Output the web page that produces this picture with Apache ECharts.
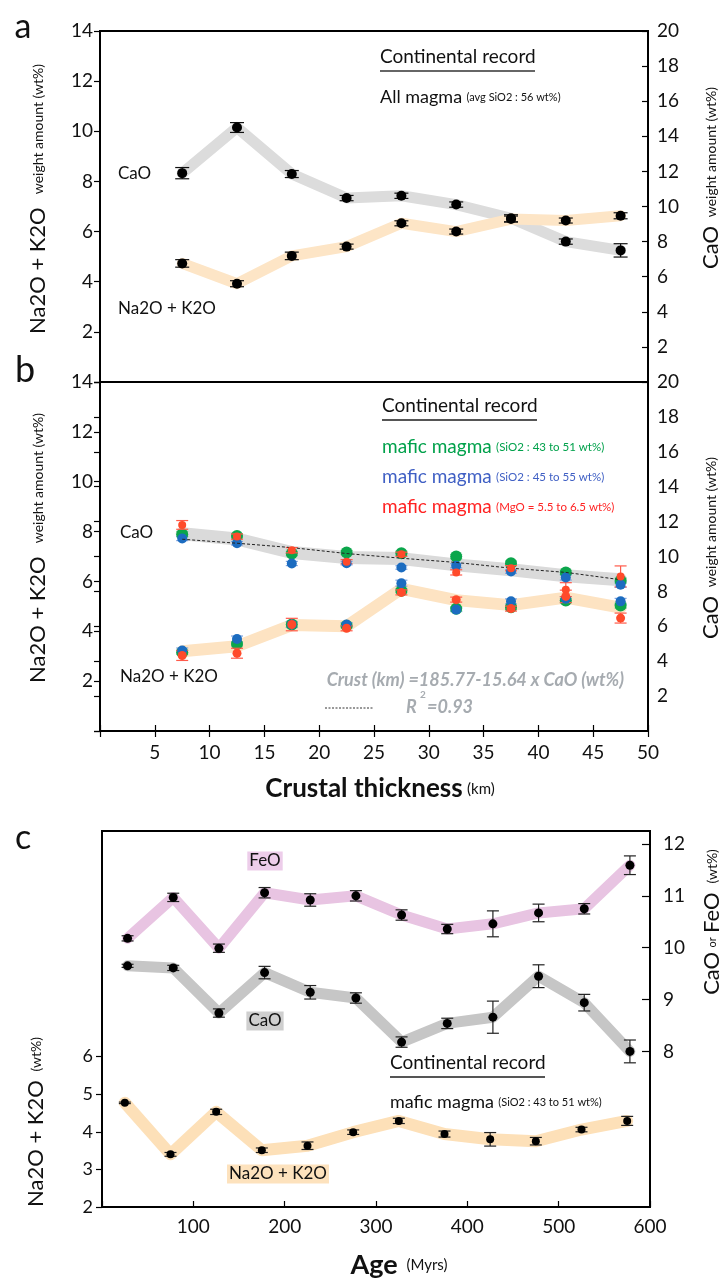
<!DOCTYPE html>
<html><head><meta charset="utf-8">
<script src="https://cdn.jsdelivr.net/npm/echarts@6/dist/echarts.min.js"></script>
<style>html,body{margin:0;padding:0;background:#fff}#c{width:722px;height:1280px}</style>
</head><body><div id="c"></div>
<script>
// ---------- Panel a / b : crustal thickness bins (km) ----------
const thickness = [7.5, 12.5, 17.5, 22.5, 27.5, 32.5, 37.5, 42.5, 47.5];
const thicknessTicks = [5, 10, 15, 20, 25, 30, 35, 40, 45, 50];

// Panel a : all magma
const aNaK    = [4.73, 3.92, 5.03, 5.40, 6.33, 6.00, 6.50, 6.44, 6.63];
const aNaKErr = [0.15, 0.12, 0.15, 0.10, 0.10, 0.10, 0.12, 0.10, 0.12];
const aCaO    = [11.90, 14.50, 11.85, 10.48, 10.61, 10.11, 9.33, 8.00, 7.50];
const aCaOErr = [0.32, 0.28, 0.20, 0.15, 0.15, 0.15, 0.20, 0.15, 0.38];

// Panel b : mafic magma (three selections)
const bGreenCaO = [11.28, 11.18, 10.17, 10.23, 10.19, 10.00, 9.62, 9.09, 8.61];
const bGreenNaK = [3.16, 3.49, 4.27, 4.22, 5.63, 4.90, 4.96, 5.23, 5.03];
const bBlueCaO  = [11.03, 10.76, 9.60, 9.62, 9.37, 9.47, 9.14, 8.80, 8.38];
const bBlueNaK  = [3.23, 3.69, 4.27, 4.27, 5.93, 4.87, 5.20, 5.31, 5.20];
const bRedCaO   = [11.81, 11.14, 10.36, 9.70, 10.13, 9.09, 9.33, 8.10, 8.86];
const bRedNaK   = [3.03, 3.12, 4.27, 4.12, 5.56, 5.27, 4.91, 5.40, 4.53];
const bGreenCaOErr = [0.15, 0.12, 0.12, 0.12, 0.12, 0.12, 0.12, 0.12, 0.15];
const bGreenNaKErr = [0.08, 0.08, 0.10, 0.08, 0.08, 0.08, 0.08, 0.08, 0.10];
const bBlueCaOErr  = [0.12, 0.10, 0.12, 0.10, 0.10, 0.12, 0.10, 0.15, 0.15];
const bBlueNaKErr  = [0.10, 0.12, 0.12, 0.08, 0.12, 0.08, 0.10, 0.08, 0.12];
const bRedCaOErr   = [0.25, 0.15, 0.15, 0.12, 0.12, 0.15, 0.15, 0.40, 0.60];
const bRedNaKErr   = [0.20, 0.20, 0.25, 0.10, 0.10, 0.10, 0.10, 0.25, 0.20];
const bCaOBand  = [11.30, 11.00, 10.23, 9.94, 9.88, 9.52, 9.24, 8.90, 8.67];
const bNaKBand  = [3.20, 3.40, 4.25, 4.20, 5.70, 5.25, 5.05, 5.35, 4.95];
const bCaOFit   = [10.99, 10.76, 10.51, 10.17, 9.90, 9.66, 9.33, 9.09, 8.67];

// ---------- Panel c : age bins (Myr) ----------
const ageOxide = [28, 78, 128, 178, 228, 278, 328, 378, 428, 478, 528, 578];
const ageNaK   = [25, 75, 125, 175, 225, 275, 325, 375, 425, 475, 525, 575];
const ageTicks = [100, 200, 300, 400, 500, 600];
const cFeO    = [10.18, 10.97, 9.99, 11.06, 10.92, 11.00, 10.63, 10.36, 10.46, 10.67, 10.75, 11.59];
const cFeOErr = [0.05, 0.08, 0.08, 0.10, 0.12, 0.10, 0.10, 0.09, 0.25, 0.17, 0.10, 0.18];
const cCaO    = [9.65, 9.61, 8.74, 9.52, 9.14, 9.03, 8.18, 8.54, 8.66, 9.45, 8.94, 8.00];
const cCaOErr = [0.03, 0.05, 0.08, 0.12, 0.13, 0.10, 0.10, 0.10, 0.31, 0.22, 0.16, 0.22];
const cNaK    = [4.77, 3.40, 4.53, 3.51, 3.63, 3.99, 4.29, 3.94, 3.80, 3.75, 4.06, 4.29];
const cNaKErr = [0.02, 0.05, 0.07, 0.06, 0.10, 0.06, 0.07, 0.08, 0.18, 0.10, 0.06, 0.12];
const cLeftTicks  = [2, 3, 4, 5, 6];
const cRightTicks = [8, 9, 10, 11, 12];

// ---------- helpers ----------
const F = 'Lato, "Noto Sans", sans-serif';
const zip = (xs, ys) => xs.map((x, i) => [x, ys[i]]);
const zip3 = (xs, ys, es) => xs.map((x, i) => [x, ys[i], es[i]]);
const hideZero = v => (v === 0 ? '' : String(v));

function band(xi, yi, xs, ys, color, width) {
  return {type: 'line', xAxisIndex: xi, yAxisIndex: yi, data: zip(xs, ys), symbol: 'none',
    lineStyle: {color, width, cap: 'round', join: 'round', opacity: 1}, z: 1, silent: true, animation: false};
}
function pts(xi, yi, xs, ys, color, size, z) {
  return {type: 'scatter', xAxisIndex: xi, yAxisIndex: yi, data: zip(xs, ys), symbol: 'circle',
    symbolSize: size, itemStyle: {color, opacity: 1}, z: z || 5, silent: true, animation: false};
}
function errs(xi, yi, xs, ys, es, color, cap, z) {
  return {type: 'custom', xAxisIndex: xi, yAxisIndex: yi, data: zip3(xs, ys, es),
    encode: {x: 0, y: 1}, z: z || 4, silent: true, animation: false,
    renderItem: (params, api) => {
      const x = api.value(0), y = api.value(1), e = api.value(2);
      const hi = api.coord([x, y + e]), lo = api.coord([x, y - e]);
      const st = {stroke: color, lineWidth: 1.2};
      return {type: 'group', children: [
        {type: 'line', shape: {x1: hi[0], y1: hi[1], x2: lo[0], y2: lo[1]}, style: st},
        {type: 'line', shape: {x1: hi[0] - cap, y1: hi[1], x2: hi[0] + cap, y2: hi[1]}, style: st},
        {type: 'line', shape: {x1: lo[0] - cap, y1: lo[1], x2: lo[0] + cap, y2: lo[1]}, style: st}
      ]};
    }};
}
const lab = {color: '#111', fontFamily: F, fontSize: 19};
function yAx(grid, pos, min, max, interval, extra) {
  const right = pos === 'right';
  return Object.assign({
    type: 'value', gridIndex: grid, position: pos, min, max, interval,
    axisLine: {show: true, lineStyle: {color: '#000', width: 2}},
    axisTick: {show: true, inside: right, length: 6, lineStyle: {color: '#000', width: 1.2}},
    axisLabel: Object.assign({}, lab, {margin: right ? 9 : 7, formatter: hideZero}),
    splitLine: {show: false}
  }, extra || {});
}

const option = {
  backgroundColor: '#fff',
  animation: false,
  grid: [
    {left: 100, top: 31, width: 548, height: 351, show: true, borderColor: '#000', borderWidth: 2},
    {left: 100, top: 382, width: 548, height: 349, show: true, borderColor: '#000', borderWidth: 2},
    {left: 102, top: 831, width: 548, height: 376, show: true, borderColor: '#000', borderWidth: 2}
  ],
  xAxis: [
    {type: 'value', gridIndex: 0, min: 0, max: 50, interval: 5, show: false},
    {type: 'value', gridIndex: 1, min: 0, max: 50, interval: 5, position: 'bottom',
      axisLine: {show: true, lineStyle: {color: '#000', width: 2}},
      axisTick: {show: true, inside: true, length: 6, lineStyle: {color: '#000', width: 1.2}},
      axisLabel: Object.assign({}, lab, {margin: 12, customValues: thicknessTicks}),
      splitLine: {show: false}},
    {type: 'value', gridIndex: 1, min: 0, max: 50, interval: 5, position: 'top',
      axisLine: {show: false},
      axisTick: {show: true, inside: true, length: 6, lineStyle: {color: '#000', width: 1.2}},
      axisLabel: {show: false}, splitLine: {show: false}},
    {type: 'value', gridIndex: 2, min: 0, max: 600, interval: 100, position: 'bottom',
      axisLine: {show: true, lineStyle: {color: '#000', width: 2}},
      axisTick: {show: true, inside: true, length: 6, lineStyle: {color: '#000', width: 1.2}},
      axisLabel: Object.assign({}, lab, {margin: 10, fontSize: 19, customValues: ageTicks}),
      splitLine: {show: false}}
  ],
  yAxis: [
    yAx(0, 'left', 0, 14, 2),
    yAx(0, 'right', 0, 20, 2),
    yAx(1, 'left', 0, 14, 2),
    yAx(1, 'right', 0, 20, 2),
    yAx(2, 'left', 2, 12, 1, {
      axisTick: {show: true, inside: false, length: 6, customValues: cLeftTicks, lineStyle: {color: '#000', width: 1.2}},
      axisLabel: Object.assign({}, lab, {fontSize: 18, margin: 9, customValues: cLeftTicks})}),
    yAx(2, 'right', 5, 12.25, 1, {
      axisTick: {show: true, inside: true, length: 8, customValues: cRightTicks, lineStyle: {color: '#000', width: 1.2}},
      axisLabel: Object.assign({}, lab, {fontSize: 19, margin: 13, customValues: cRightTicks})})
  ],
  series: [
    // panel a
    band(0, 1, thickness, aCaO, '#dcdcdc', 11),
    band(0, 0, thickness, aNaK, '#fde5c6', 11),
    errs(0, 1, thickness, aCaO, aCaOErr, '#111', 7),
    errs(0, 0, thickness, aNaK, aNaKErr, '#111', 7),
    pts(0, 1, thickness, aCaO, '#000', 10),
    pts(0, 0, thickness, aNaK, '#000', 10),
    // panel b
    band(1, 3, thickness, bCaOBand, '#dadada', 13),
    band(1, 2, thickness, bNaKBand, '#fde3c2', 12),
    {type: 'line', xAxisIndex: 1, yAxisIndex: 3, data: zip(thickness, bCaOFit), symbol: 'none',
      lineStyle: {color: '#222', width: 1, type: [3, 2]}, z: 6, silent: true, animation: false},
    errs(1, 3, thickness, bGreenCaO, bGreenCaOErr, '#7fd49d', 6, 3),
    errs(1, 2, thickness, bGreenNaK, bGreenNaKErr, '#7fd49d', 6, 3),
    pts(1, 3, thickness, bGreenCaO, '#0ba64b', 12, 4),
    pts(1, 2, thickness, bGreenNaK, '#0ba64b', 12, 4),
    errs(1, 3, thickness, bBlueCaO, bBlueCaOErr, '#7fa3df', 6, 4),
    errs(1, 2, thickness, bBlueNaK, bBlueNaKErr, '#7fa3df', 6, 4),
    pts(1, 3, thickness, bBlueCaO, '#1c6cc0', 10, 5),
    pts(1, 2, thickness, bBlueNaK, '#1c6cc0', 10, 5),
    errs(1, 3, thickness, bRedCaO, bRedCaOErr, '#ff5a4a', 6, 5),
    errs(1, 2, thickness, bRedNaK, bRedNaKErr, '#ff5a4a', 6, 5),
    pts(1, 3, thickness, bRedCaO, '#ff4a2a', 8, 6),
    pts(1, 2, thickness, bRedNaK, '#ff4a2a', 9, 6),
    // panel c
    band(3, 5, ageOxide, cFeO, '#e8c4e2', 11),
    band(3, 5, ageOxide, cCaO, '#c6c6c6', 11),
    band(3, 4, ageNaK, cNaK, '#fde0b8', 12),
    errs(3, 5, ageOxide, cFeO, cFeOErr, '#222', 6),
    errs(3, 5, ageOxide, cCaO, cCaOErr, '#222', 6),
    errs(3, 4, ageNaK, cNaK, cNaKErr, '#222', 6),
    pts(3, 5, ageOxide, cFeO, '#000', 9),
    pts(3, 5, ageOxide, cCaO, '#000', 9),
    pts(3, 4, ageNaK, cNaK, '#000', 8)
  ],
  graphic: []
};

// ---------- text & decorations ----------
const G = option.graphic;
function T(x, y, text, st, extra) {
  G.push(Object.assign({type: 'text', x, y, silent: true, z: 100,
    style: Object.assign({text, fill: '#111', fontFamily: F, fontSize: 17, align: 'left', verticalAlign: 'middle'}, st || {})}, extra || {}));
}
function L(x1, y1, x2, y2, color, w, dash) {
  G.push({type: 'line', silent: true, z: 100, shape: {x1, y1, x2, y2},
    style: {stroke: color, lineWidth: w, lineDash: dash || null}});
}
// panel letters
T(23, 27, 'a', {fontSize: 34, align: 'center'});
T(25, 370, 'b', {fontSize: 36, align: 'center'});
T(23, 838, 'c', {fontSize: 34, align: 'center'});

// rotated axis titles
const richL = {big: {fontFamily: F, fontSize: 22, fill: '#111'}, sm: {fontFamily: F, fontSize: 14, fill: '#111'}};
T(0, 0, '{big|Na2O + K2O}   {sm|weight amount (wt%)}', {align: 'center', rich: richL}, {x: 38, y: 199, rotation: Math.PI / 2});
T(0, 0, '{big|Na2O + K2O}   {sm|weight amount (wt%)}', {align: 'center', rich: richL}, {x: 38, y: 548, rotation: Math.PI / 2});
T(0, 0, '{big|CaO}  {sm|weight amount (wt%)}', {align: 'center', rich: richL}, {x: 711, y: 178, rotation: Math.PI / 2});
T(0, 0, '{big|CaO}  {sm|weight amount (wt%)}', {align: 'center', rich: richL}, {x: 711, y: 548, rotation: Math.PI / 2});
T(0, 0, '{big|Na2O + K2O}  {sm|(wt%)}', {align: 'center', rich: richL}, {x: 36, y: 1122, rotation: Math.PI / 2});
T(0, 0, '{big|CaO} {xs|or} {big|FeO}  {sm|(wt%)}', {align: 'center',
  rich: Object.assign({xs: {fontFamily: F, fontSize: 11, fill: '#111'}}, richL)}, {x: 712, y: 922, rotation: Math.PI / 2});

// x-axis titles
T(380, 789, '{b|Crustal thickness} {s|(km)}', {align: 'center',
  rich: {b: {fontFamily: F, fontSize: 26, fontWeight: 'bold', fill: '#111'}, s: {fontFamily: F, fontSize: 15, fill: '#111'}}});
T(399, 1265, '{b|Age}  {s|(Myrs)}', {align: 'center',
  rich: {b: {fontFamily: F, fontSize: 27, fontWeight: 'bold', fill: '#111'}, s: {fontFamily: F, fontSize: 15, fill: '#111'}}});

// panel a annotations
T(380, 57, 'Continental record', {fontSize: 19});
L(380, 71, 535, 71, '#666', 2);
T(380, 97, '{m|All magma} {s|(avg SiO2 : 56 wt%)}', {rich: {m: {fontFamily: F, fontSize: 18, fill: '#111'}, s: {fontFamily: F, fontSize: 11, fill: '#111'}}});
T(118, 174, 'CaO', {fontSize: 17});
T(118, 309, 'Na2O + K2O', {fontSize: 17});

// panel b annotations
T(382, 406, 'Continental record', {fontSize: 19});
L(382, 420, 537, 420, '#555', 2);
T(382, 447, '{m|mafic magma} {s|(SiO2 : 43 to 51 wt%)}', {rich: {m: {fontFamily: F, fontSize: 19, fill: '#00a14b'}, s: {fontFamily: F, fontSize: 11.5, fill: '#00a14b'}}});
T(382, 477, '{m|mafic magma} {s|(SiO2 : 45 to 55 wt%)}', {rich: {m: {fontFamily: F, fontSize: 19, fill: '#3f5fc4'}, s: {fontFamily: F, fontSize: 11.5, fill: '#3f5fc4'}}});
T(382, 507, '{m|mafic magma} {s|(MgO = 5.5 to 6.5 wt%)}', {rich: {m: {fontFamily: F, fontSize: 19, fill: '#ff2222'}, s: {fontFamily: F, fontSize: 11.5, fill: '#ff2222'}}});
T(120, 533, 'CaO', {fontSize: 17});
T(120, 677, 'Na2O + K2O', {fontSize: 17});
T(624, 680, 'Crust (km) =185.77-15.64 x CaO (wt%)', {align: 'right', fontSize: 18, fontWeight: 'bold', fontStyle: 'italic', fill: '#a6abb0'});
T(406, 707, 'R', {fontSize: 18, fontWeight: 'bold', fontStyle: 'italic', fill: '#a6abb0'});
T(420, 695, '2', {fontSize: 10, fontWeight: 'bold', fill: '#a6abb0'});
T(427, 707, '=0.93', {fontSize: 18, fontWeight: 'bold', fontStyle: 'italic', fill: '#a6abb0'});
L(325, 708, 373, 708, '#333', 1, [2, 1.5]);

// panel c annotations
T(265, 861, 'FeO', {align: 'center', fontSize: 17, backgroundColor: '#edcdea', padding: [1, 2]});
T(265, 1021, 'CaO', {align: 'center', fontSize: 17, backgroundColor: '#cfcfcf', padding: [1, 2]});
T(278, 1174, 'Na2O + K2O', {align: 'center', fontSize: 17, backgroundColor: '#fde2bd', padding: [1, 2]});
T(390, 1063, 'Continental record', {fontSize: 19});
L(390, 1077, 545, 1077, '#555', 2);
T(390, 1102, '{m|mafic magma} {s|(SiO2 : 43 to 51 wt%)}', {rich: {m: {fontFamily: F, fontSize: 18, fill: '#111'}, s: {fontFamily: F, fontSize: 11, fill: '#111'}}});

const chart = echarts.init(document.getElementById('c'));
chart.setOption(option);
</script>
</body></html>
